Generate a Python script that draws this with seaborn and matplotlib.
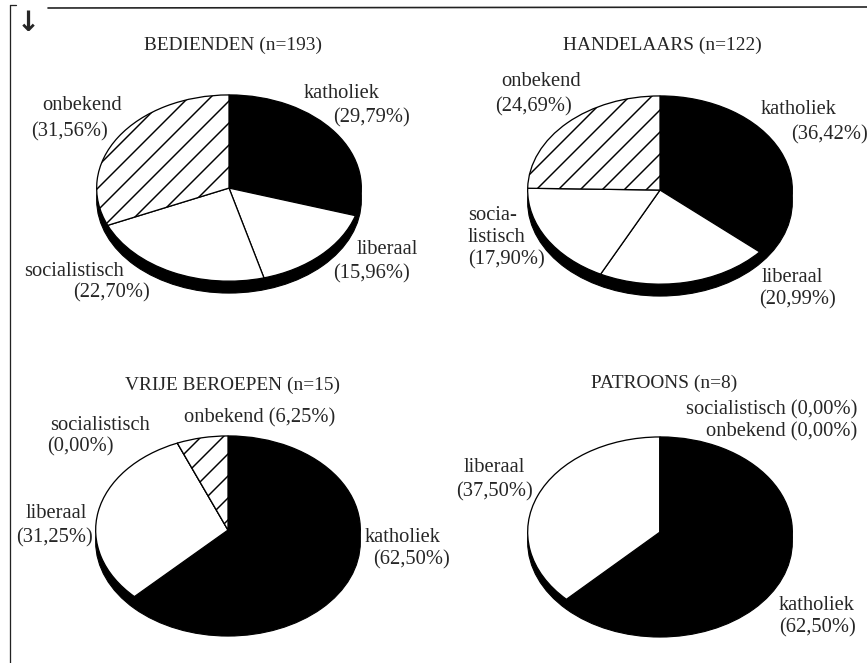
import matplotlib
matplotlib.use("Agg")
import matplotlib.pyplot as plt
from matplotlib.patches import Ellipse
from matplotlib.lines import Line2D
import seaborn as sns

# ── Data ──────────────────────────────────────────────────────────────────────
PARTIES = ["katholiek", "liberaal", "socialistisch", "onbekend"]
TITLES = ["BEDIENDEN (n=193)", "HANDELAARS (n=122)",
          "VRIJE BEROEPEN (n=15)", "PATROONS (n=8)"]

BEDIENDEN      = [29.79, 15.96, 22.70, 31.56]
HANDELAARS     = [36.42, 20.99, 17.90, 24.69]
VRIJE_BEROEPEN = [62.50, 31.25, 0.00, 6.25]
PATROONS       = [62.50, 37.50, 0.00, 0.00]

COLORS  = ["black", "white", "white", "white"]
HATCHES = [None, None, None, "//"]

# ── Layout (pixels on a 867x663 canvas) ───────────────────────────────────────
W, H, DPI = 867, 663, 132
FONT = 11.2
TITLE_FONT = 10.6

# label entries: (template, party index, x, y, ha)
PANELS = [
    dict(values=BEDIENDEN, title=TITLES[0], title_xy=(233, 45),
         center=(229, 188), a=133, b=94, depth=12,
         labels=[("{name}", 0, 342, 93, "center"), ("{pct}", 0, 372, 118, "center"),
                 ("{name}", 3, 82, 106, "center"), ("{pct}", 3, 70, 132, "center"),
                 ("{name}", 1, 387, 249, "center"), ("{pct}", 1, 372, 274, "center"),
                 ("{name}", 2, 74, 271, "center"), ("{pct}", 2, 112, 293, "center")]),
    dict(values=HANDELAARS, title=TITLES[1], title_xy=(662, 45),
         center=(660, 190), a=133, b=95, depth=12,
         labels=[("{name}", 3, 541, 82, "center"), ("{pct}", 3, 533, 107, "center"),
                 ("{name}", 0, 799, 110, "center"), ("{pct}", 0, 829, 135, "center"),
                 ("socia-", 2, 468, 215, "left"), ("listisch", 2, 468, 237, "left"),
                 ("{pct}", 2, 468, 260, "left"),
                 ("{name}", 1, 792, 277, "center"), ("{pct}", 1, 797, 300, "center")]),
    dict(values=VRIJE_BEROEPEN, title=TITLES[2], title_xy=(233, 385),
         center=(228, 530), a=133, b=95, depth=12,
         labels=[("{name}", 2, 100, 425, "center"), ("{pct}", 2, 80, 447, "center"),
                 ("{name} {pct}", 3, 260, 418, "center"),
                 ("{name}", 1, 56, 513, "center"), ("{pct}", 1, 55, 538, "center"),
                 ("{name}", 0, 403, 537, "center"), ("{pct}", 0, 412, 560, "center")]),
    dict(values=PATROONS, title=TITLES[3], title_xy=(664, 383),
         center=(660, 532), a=133, b=96, depth=10,
         labels=[("{name} {pct}", 2, 857, 410, "right"),
                 ("{name} {pct}", 3, 857, 432, "right"),
                 ("{name}", 1, 494, 467, "center"), ("{pct}", 1, 494, 492, "center"),
                 ("{name}", 0, 817, 605, "center"), ("{pct}", 0, 818, 628, "center")]),
]


def fmt_pct(v):
    return "(" + f"{v:.2f}".replace(".", ",") + "%)"


def fx(x):
    return x / W


def fy(y):
    return 1 - y / H


sns.set_style("white")
plt.rcParams["font.family"] = ["Liberation Serif", "DejaVu Serif"]
plt.rcParams["hatch.linewidth"] = 0.8

fig = plt.figure(figsize=(W / DPI, H / DPI), dpi=DPI)
fig.patch.set_facecolor("white")

for p in PANELS:
    cx, cy, a, b, d = p["center"][0], p["center"][1], p["a"], p["b"], p["depth"]
    ax = fig.add_axes([fx(cx - a), fy(cy + b + d), 2 * a / W, (2 * b + d) / H])
    # side of the tilted disc
    ax.add_patch(Ellipse((0, -d / b), 2, 2, facecolor="black",
                         edgecolor="black", linewidth=0.6, zorder=0))
    wedges, _ = ax.pie(p["values"], colors=COLORS, startangle=90,
                       counterclock=False, radius=1,
                       wedgeprops=dict(edgecolor="black", linewidth=0.7))
    for w, h in zip(wedges, HATCHES):
        if h:
            w.set_hatch(h)
    ax.set_aspect("auto")
    ax.set_xlim(-1.005, 1.005)
    ax.set_ylim(-1 - d / b - 0.01, 1.01)
    ax.axis("off")

    fig.text(fx(p["title_xy"][0]), fy(p["title_xy"][1]), p["title"],
             ha="center", va="center", fontsize=TITLE_FONT)
    for tpl, i, x, y, ha in p["labels"]:
        txt = tpl.format(name=PARTIES[i], pct=fmt_pct(p["values"][i]))
        fig.text(fx(x), fy(y), txt, ha=ha, va="center", fontsize=FONT)

# frame of the page: bracket, top rule and arrow
fig.add_artist(Line2D([fx(48), fx(867)], [fy(8), fy(7)], color="#222",
                      linewidth=0.9, transform=fig.transFigure))
fig.add_artist(Line2D([fx(10), fx(10)], [fy(5), fy(663)], color="#222",
                      linewidth=0.7, transform=fig.transFigure))
fig.add_artist(Line2D([fx(10), fx(16)], [fy(5), fy(5)], color="#222",
                      linewidth=0.7, transform=fig.transFigure))
fig.text(fx(28), fy(23), "↓", ha="center", va="center", fontsize=15,
         fontweight="bold", family="DejaVu Sans")

fig.savefig("out.png", dpi=DPI)
